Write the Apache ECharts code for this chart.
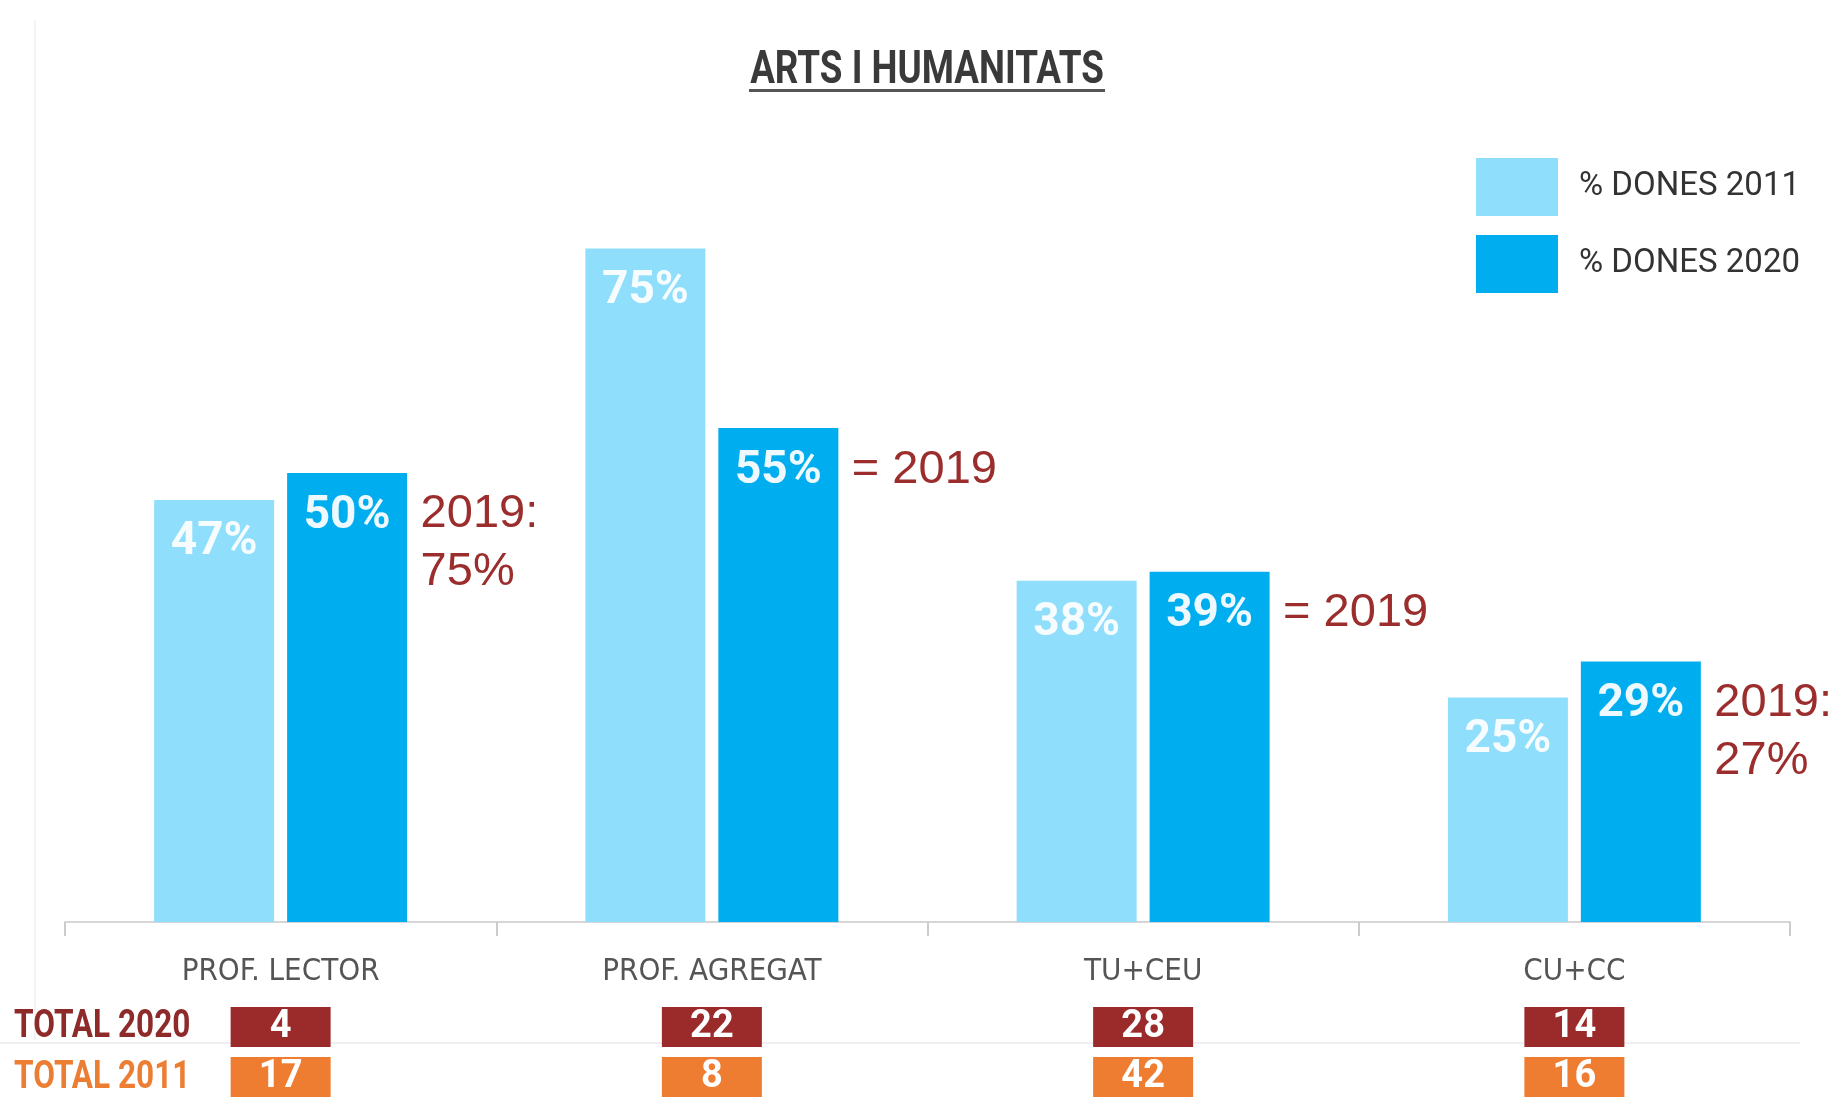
<!DOCTYPE html>
<html>
<head>
<meta charset="utf-8">
<title>Arts i Humanitats</title>
<script src="https://cdn.jsdelivr.net/npm/echarts@6/dist/echarts.min.js"></script>
<style>
	html, body { margin: 0; padding: 0; background: #fff; }
	#chart { width: 1844px; height: 1097px; }
</style>
</head>
<body>
<div id="chart"></div>
<script>
	// dades
	var categories = ['PROF. LECTOR', 'PROF. AGREGAT', 'TU+CEU', 'CU+CC'];
	var dones2011 = [47, 75, 38, 25];
	var dones2020 = [50, 55, 39, 29];
	var total2020 = [4, 22, 28, 14];
	var total2011 = [17, 8, 42, 16];
	var notes2019 = ['2019:\n75%', '= 2019', '= 2019', '2019:\n27%'];

	var roboto = "Roboto, 'DejaVu Sans', sans-serif";
	var condensed = "'DejaVu Sans Condensed', 'Liberation Sans', sans-serif";
	var arial = "'Liberation Sans', Arial, sans-serif";

	var myChart = echarts.init(document.getElementById('chart'));

	var barLabel = {
		show: true,
		position: 'insideTop',
		distance: 20,
		formatter: '{c}%',
		color: 'rgba(255,255,255,0.93)',
		fontSize: 46,
		fontWeight: 'bold',
		fontFamily: roboto
	};

	var option = {
		backgroundColor: '#fff',
		animation: false,
		grid: { left: 65, right: 54, top: 24, bottom: 175, containLabel: false },
		legend: {
			orient: 'vertical',
			left: 1476,
			top: 158,
			padding: 0,
			itemWidth: 82,
			itemHeight: 58,
			itemGap: 19,
			icon: 'rect',
			textStyle: { color: '#333', fontSize: 33, fontFamily: roboto, padding: [0, 0, 0, 16] },
			data: ['% DONES 2011', '% DONES 2020']
		},
		xAxis: {
			type: 'category',
			data: categories,
			axisLine: { show: true, lineStyle: { color: '#d6d6d6', width: 2 } },
			axisTick: { show: true, inside: false, length: 14, lineStyle: { color: '#cccccc', width: 2 } },
			axisLabel: {
				interval: 0,
				margin: 20,
				verticalAlign: 'top',
				formatter: function (name, i) {
					return '{n|' + name + '}\n{a|' + total2020[i] + '}\n{b|' + total2011[i] + '}';
				},
				rich: {
					n: { fontSize: 31, lineHeight: 60, color: '#555', fontFamily: condensed },
					a: {
						width: 100, height: 40, lineHeight: 50, align: 'center',
						backgroundColor: '#9b2b2b', color: '#fff',
						fontSize: 38, fontWeight: 'bold', fontFamily: roboto
					},
					b: {
						width: 100, height: 40, lineHeight: 50, align: 'center',
						backgroundColor: '#ee7d31', color: '#fff',
						fontSize: 38, fontWeight: 'bold', fontFamily: roboto
					}
				}
			}
		},
		yAxis: { type: 'value', min: 0, max: 100, show: false },
		series: [
			{
				name: '% DONES 2011',
				type: 'bar',
				barWidth: 120,
				barGap: '10.8%',
				itemStyle: { color: '#8fdffc' },
				label: barLabel,
				data: dones2011
			},
			{
				name: '% DONES 2020',
				type: 'bar',
				barWidth: 120,
				itemStyle: { color: '#00aeef' },
				label: barLabel,
				data: dones2020,
				markPoint: {
					symbol: 'rect',
					symbolSize: 1,
					itemStyle: { color: 'transparent' },
					label: {
						show: true,
						position: [74, 13],
						align: 'left',
						verticalAlign: 'top',
						formatter: '{b}',
						color: '#9b2d2d',
						fontSize: 47,
						lineHeight: 58,
						fontFamily: arial
					},
					data: categories.map(function (c, i) {
						return { name: notes2019[i], coord: [i, dones2020[i]] };
					})
				}
			}
		],
		graphic: [
			{ type: 'line', shape: { x1: 35, y1: 20, x2: 35, y2: 1040 }, style: { stroke: '#f3f3f3', lineWidth: 2 }, silent: true },
			{ type: 'line', shape: { x1: 0, y1: 1043, x2: 1800, y2: 1043 }, style: { stroke: '#efefef', lineWidth: 2 }, silent: true },
			{
				type: 'text', x: 927, y: 71, scaleX: 0.8,
				style: { text: 'ARTS I HUMANITATS', align: 'center', verticalAlign: 'middle', fill: '#3a3a3a', fontSize: 46, fontWeight: 'bold', fontFamily: roboto }
			},
			{ type: 'rect', shape: { x: 749, y: 89, width: 356, height: 3 }, style: { fill: '#555' } },
			{
				type: 'text', x: 14, y: 1027, scaleX: 0.81,
				style: { text: 'TOTAL 2020', verticalAlign: 'middle', fill: '#8e2a2a', fontSize: 39, fontWeight: 'bold', fontFamily: roboto }
			},
			{
				type: 'text', x: 14, y: 1078, scaleX: 0.81,
				style: { text: 'TOTAL 2011', verticalAlign: 'middle', fill: '#eb7e33', fontSize: 39, fontWeight: 'bold', fontFamily: roboto }
			}
		]
	};

	myChart.setOption(option);
</script>
</body>
</html>
